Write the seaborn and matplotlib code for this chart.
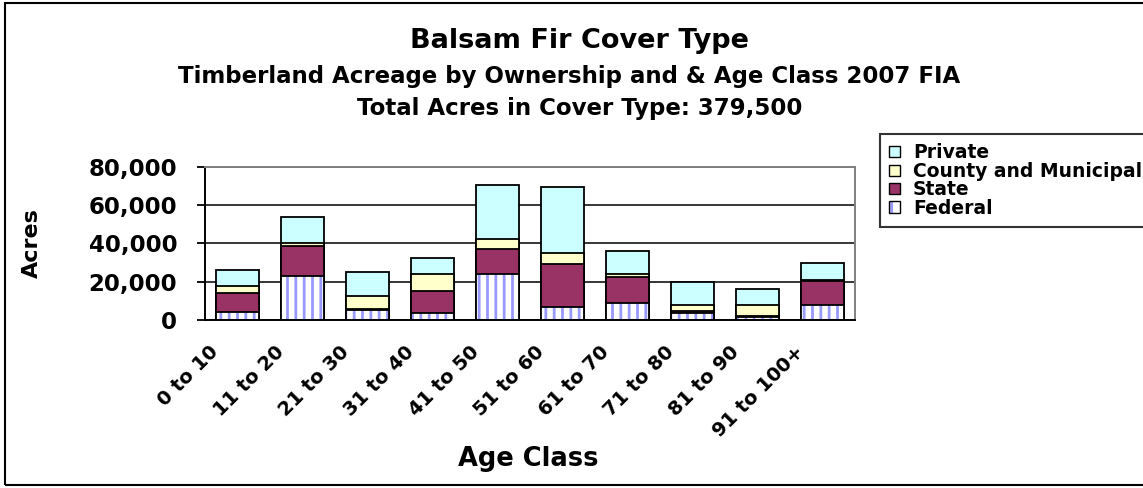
import numpy as np
import seaborn as sns
import matplotlib.pyplot as plt
import matplotlib.transforms as mtransforms
from matplotlib.patches import Patch, Rectangle
from matplotlib.ticker import FuncFormatter

# data (acres)
age_classes = ['0 to 10', '11 to 20', '21 to 30', '31 to 40', '41 to 50',
               '51 to 60', '61 to 70', '71 to 80', '81 to 90', '91 to 100+']
federal = [4000, 23100, 5200, 3500, 24000, 7000, 8700, 3800, 1400, 8000]
state = [9900, 15400, 700, 11600, 12900, 22400, 13700, 700, 500, 12500]
county = [4000, 1900, 6600, 8900, 5200, 5400, 1600, 3500, 6100, 200]
private = [8200, 13500, 12500, 8400, 28200, 34500, 12000, 11700, 8200, 9100]

c_private = '#CCFFFF'
c_county = '#FFFFCC'
c_state = '#993366'
c_fed_stripe = '#9999FF'

sns.set_style('white')
plt.rcParams['font.family'] = ['DejaVu Sans']
plt.rcParams['font.weight'] = 'bold'
plt.rcParams['hatch.linewidth'] = 2.0
plt.rcParams['text.color'] = 'black'
plt.rcParams['axes.labelcolor'] = 'black'
plt.rcParams['xtick.color'] = 'black'
plt.rcParams['ytick.color'] = 'black'

fed_arr = np.array(federal)
state_cum = fed_arr + np.array(state)
county_cum = state_cum + np.array(county)
total = county_cum + np.array(private)

fig = plt.figure(figsize=(11.43, 4.88), dpi=100)
ax = fig.add_axes([205/1143, 1-320/488, 650/1143, 153.3/488])

bw = 0.66
lw = 1.3
# stacked bars drawn from the top segment down
sns.barplot(x=age_classes, y=total, color=c_private, saturation=1, width=bw,
            edgecolor='black', linewidth=lw, errorbar=None, ax=ax)
sns.barplot(x=age_classes, y=county_cum, color=c_county, saturation=1, width=bw,
            edgecolor='black', linewidth=lw, errorbar=None, ax=ax)
sns.barplot(x=age_classes, y=state_cum, color=c_state, saturation=1, width=bw,
            edgecolor='black', linewidth=lw, errorbar=None, ax=ax)
sns.barplot(x=age_classes, y=federal, color='white', saturation=1, width=bw,
            edgecolor=c_fed_stripe, linewidth=0, hatch='||', errorbar=None, ax=ax)
sns.barplot(x=age_classes, y=federal, color='black', fill=False, width=bw,
            linewidth=lw, errorbar=None, ax=ax)

# axes
ax.set_ylim(0, 80000)
ax.set_xlim(-0.5, 9.5)
ax.set_yticks(range(0, 80001, 20000))
ax.yaxis.set_major_formatter(FuncFormatter(lambda v, p: f'{int(v):,}'))
ax.set_axisbelow(True)
ax.yaxis.grid(True, color='black', linewidth=1.1)
ax.xaxis.grid(False)

for s in ['left', 'bottom']:
    ax.spines[s].set_color('black')
    ax.spines[s].set_linewidth(1.4)
for s in ['top', 'right']:
    ax.spines[s].set_color('#808080')
    ax.spines[s].set_linewidth(1.4)

ax.set_xticks(np.arange(-0.5, 10, 1), minor=True)
ax.tick_params(axis='x', which='major', length=0, pad=16, labelsize=14)
ax.tick_params(axis='x', which='minor', length=6, width=1.3, direction='out', color='black')
ax.tick_params(axis='y', which='major', length=6, width=1.3, direction='out',
               color='black', labelsize=16.5, pad=14, left=True)

ax.set_xticks(range(len(age_classes)))
ax.set_xticklabels(age_classes, rotation=45, ha='right', va='top', fontweight='bold')
offset = mtransforms.ScaledTranslation(-15/100, 0, fig.dpi_scale_trans)
for lab in ax.get_xticklabels():
    lab.set_transform(lab.get_transform() + offset)
for lab in ax.get_yticklabels():
    lab.set_fontweight('bold')

ax.set_xlabel('')
ax.set_ylabel('')
fig.text(32/1143, 1-243/488, 'Acres', rotation=90, ha='center', va='center',
         fontsize=16, fontweight='bold')
fig.text(528/1143, 1-459/488, 'Age Class', ha='center', va='center',
         fontsize=18.5, fontweight='bold')

# titles
fig.text(579/1143, 1-41/488, 'Balsam Fir Cover Type', ha='center', va='center',
         fontsize=19.5, fontweight='bold')
fig.text(569/1143, 1-76/488, 'Timberland Acreage by Ownership and & Age Class 2007 FIA',
         ha='center', va='center', fontsize=16.5, fontweight='bold')
fig.text(580/1143, 1-108/488, 'Total Acres in Cover Type: 379,500', ha='center',
         va='center', fontsize=16.5, fontweight='bold')

# legend
handles = [
    Patch(facecolor=c_private, edgecolor='black', linewidth=1),
    Patch(facecolor=c_county, edgecolor='black', linewidth=1),
    Patch(facecolor=c_state, edgecolor='black', linewidth=1),
    (Patch(facecolor='white', edgecolor=c_fed_stripe, hatch='|', linewidth=0),
     Patch(fill=False, edgecolor='black', linewidth=1)),
]
labels = ['Private', 'County and Municipal', 'State', 'Federal']
leg = fig.legend(handles, labels, loc='upper left',
                 bbox_to_anchor=(880/1143, 1-134/488), bbox_transform=fig.transFigure,
                 borderaxespad=0, borderpad=0.5, handlelength=0.55, handleheight=0.55,
                 handletextpad=0.7, labelspacing=-0.03, fontsize=13.5,
                 frameon=True, fancybox=False, edgecolor='black')
leg.get_frame().set_linewidth(1.5)
for t in leg.get_texts():
    t.set_fontweight('bold')

# outer chart border
fig.patches.append(Rectangle((5/1143, 3/488), 1.2, 482/488, transform=fig.transFigure,
                             fill=False, edgecolor='black', linewidth=1.5))

fig.savefig('out.png', dpi=100)
